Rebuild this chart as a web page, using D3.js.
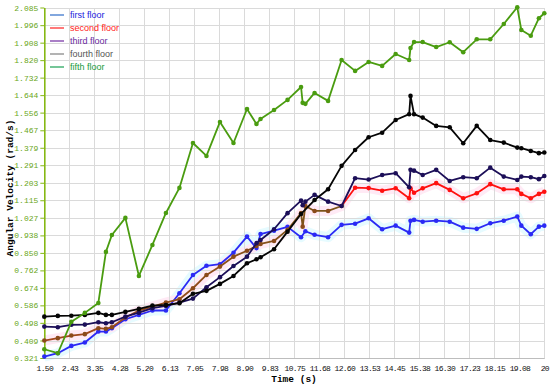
<!DOCTYPE html>
<html>
<head>
<meta charset="utf-8">
<script src="https://cdn.jsdelivr.net/npm/d3@7/dist/d3.min.js"></script>
<style>
  body { margin: 0; background: #fff; }
  .grid line { stroke: #dadada; shape-rendering: crispEdges; }
  .grid .domain { display: none; }
  .tick-label { font-family: "Liberation Mono", "DejaVu Sans Mono", monospace; font-size: 8px; }
  .x-label { letter-spacing: -0.7px; }
  .axis-title { font-family: "Liberation Mono", "DejaVu Sans Mono", monospace; font-size: 9.5px; font-weight: bold; fill: #000; }
  .legend text { font-family: "Liberation Sans", Arial, sans-serif; font-size: 9px; }
</style>
</head>
<body>
<script>
var xTickLabels = ["1.50", "2.43", "3.35", "4.28", "5.20", "6.13", "7.05", "7.98", "8.90", "9.83",
                   "10.75", "11.68", "12.60", "13.53", "14.45", "15.38", "16.30", "17.23", "18.15", "19.08", "20"];
var yTickLabels = ["0.321", "0.409", "0.498", "0.586", "0.674", "0.762", "0.850", "0.938", "1.027", "1.115",
                   "1.203", "1.291", "1.379", "1.467", "1.556", "1.644", "1.732", "1.820", "1.908", "1.996", "2.085"];

// [time (s), angular velocity (rad/s)]
var firstFloor = [
  [1.5, 0.328], [2.0, 0.345], [2.5, 0.382], [3.0, 0.399], [3.5, 0.454], [3.78, 0.454], [4.0, 0.471],
  [4.5, 0.516], [5.0, 0.538], [5.5, 0.560], [6.0, 0.560], [6.5, 0.647], [7.0, 0.739], [7.5, 0.785],
  [8.0, 0.793], [8.5, 0.851], [9.0, 0.932], [9.35, 0.874], [9.5, 0.945], [10.0, 0.962], [10.5, 0.981],
  [11.0, 0.929], [11.16, 0.959], [11.5, 0.941], [12.0, 0.929], [12.5, 0.991], [13.0, 0.997], [13.5, 1.024],
  [14.0, 0.969], [14.5, 0.987], [15.0, 0.952], [15.05, 1.012], [15.18, 1.016], [15.5, 1.007], [16.0, 1.012],
  [16.5, 1.007], [17.0, 0.977], [17.5, 0.971], [18.0, 0.999], [18.5, 1.012], [19.0, 1.033], [19.15, 0.987],
  [19.5, 0.944], [19.8, 0.982], [20.0, 0.987]
];
var secondFloor = [
  [1.5, 0.409], [2.0, 0.421], [2.5, 0.434], [3.0, 0.441], [3.5, 0.471], [3.78, 0.468], [4.0, 0.476],
  [4.5, 0.525], [5.0, 0.560], [5.5, 0.580], [6.0, 0.600], [6.5, 0.617], [7.0, 0.672], [7.5, 0.739],
  [8.0, 0.781], [8.5, 0.831], [9.0, 0.861], [9.35, 0.885], [9.5, 0.895], [10.0, 0.910], [10.5, 0.966],
  [11.0, 1.050], [11.06, 0.982], [11.16, 1.086], [11.5, 1.061], [12.0, 1.061], [12.5, 1.086], [13.0, 1.178],
  [13.5, 1.176], [14.0, 1.163], [14.5, 1.175], [15.0, 1.125], [15.05, 1.175], [15.18, 1.153], [15.5, 1.175],
  [16.0, 1.201], [16.5, 1.167], [17.0, 1.125], [17.5, 1.150], [18.0, 1.196], [18.5, 1.170], [19.0, 1.170],
  [19.15, 1.147], [19.5, 1.125], [19.8, 1.147], [20.0, 1.158]
];
var thirdFloor = [
  [1.5, 0.479], [2.0, 0.476], [2.5, 0.488], [3.0, 0.489], [3.5, 0.501], [3.78, 0.496], [4.0, 0.501],
  [4.5, 0.529], [5.0, 0.549], [5.5, 0.572], [6.0, 0.583], [6.5, 0.600], [7.0, 0.620], [7.5, 0.677],
  [8.0, 0.728], [8.5, 0.784], [9.0, 0.831], [9.35, 0.899], [9.5, 0.915], [10.0, 0.969], [10.5, 1.050],
  [11.0, 1.113], [11.06, 1.090], [11.16, 1.108], [11.5, 1.142], [12.0, 1.108], [12.5, 1.086], [13.0, 1.226],
  [13.5, 1.219], [14.0, 1.242], [14.5, 1.251], [15.0, 1.180], [15.05, 1.268], [15.18, 1.264], [15.5, 1.242],
  [16.0, 1.268], [16.5, 1.212], [17.0, 1.231], [17.5, 1.226], [18.0, 1.279], [18.5, 1.234], [19.0, 1.217],
  [19.15, 1.234], [19.5, 1.231], [19.8, 1.221], [20.0, 1.237]
];
var fourthFloor = [
  [1.5, 0.529], [2.0, 0.533], [2.5, 0.534], [3.0, 0.538], [3.5, 0.548], [3.78, 0.538], [4.0, 0.538],
  [4.5, 0.553], [5.0, 0.568], [5.5, 0.585], [6.0, 0.588], [6.5, 0.597], [7.0, 0.644], [7.5, 0.659],
  [8.0, 0.694], [8.5, 0.734], [9.0, 0.798], [9.35, 0.818], [9.5, 0.828], [10.0, 0.868], [10.5, 0.957],
  [11.0, 1.046], [11.5, 1.116], [12.0, 1.170], [12.5, 1.288], [13.0, 1.368], [13.5, 1.432], [14.0, 1.455],
  [14.5, 1.519], [15.0, 1.548], [15.05, 1.640], [15.18, 1.548], [15.5, 1.531], [16.0, 1.489], [16.5, 1.482],
  [17.0, 1.402], [17.5, 1.489], [18.0, 1.418], [18.5, 1.405], [19.0, 1.380], [19.15, 1.377], [19.5, 1.363],
  [19.8, 1.352], [20.0, 1.355]
];
var fifthFloor = [
  [1.5, 0.365], [2.0, 0.345], [2.5, 0.503], [3.0, 0.548], [3.5, 0.598], [3.78, 0.855], [4.0, 0.940],
  [4.5, 1.026], [5.0, 0.734], [5.5, 0.890], [6.0, 1.051], [6.5, 1.177], [7.0, 1.403], [7.5, 1.338],
  [8.0, 1.509], [8.5, 1.403], [9.0, 1.574], [9.35, 1.499], [9.5, 1.524], [10.0, 1.569], [10.5, 1.620],
  [11.0, 1.685], [11.06, 1.605], [11.16, 1.600], [11.5, 1.655], [12.0, 1.615], [12.5, 1.821], [13.0, 1.766],
  [13.5, 1.811], [14.0, 1.791], [14.5, 1.851], [15.0, 1.821], [15.05, 1.881], [15.18, 1.911], [15.5, 1.911],
  [16.0, 1.886], [16.5, 1.910], [17.0, 1.860], [17.5, 1.925], [18.0, 1.925], [18.5, 2.002], [19.0, 2.086],
  [19.15, 1.972], [19.5, 1.943], [19.8, 2.031], [20.0, 2.056]
];

var series = [
  {name: "first floor",  data: firstFloor,  stroke: "#2a2af5", glow: "#e6fbff", key: "#3f78cc", text: "#2222dd"},
  {name: "second floor", data: secondFloor, stroke: "url(#redgrad)", glow: "#ffeaf5", key: "#ff3030", text: "#ff2020"},
  {name: "third floor",  data: thirdFloor,  stroke: "#1c0f58", glow: null, key: "#7a3aa8", text: "#6a2aa0"},
  {name: "fourth floor", data: fourthFloor, stroke: "#050505", glow: null, key: "#8a8a8a", text: "#555555"},
  {name: "fifth floor",  data: fifthFloor,  stroke: "#4a9c10", glow: null, key: "#2aa860", text: "#189a3c"}
];

var width = 550, height = 386;
var x = d3.scaleLinear().domain([1.5, 20]).range([44.3, 544.3]);
var y = d3.scaleLinear().domain([0.321, 2.085]).range([358, 7.5]);

var svg = d3.select("body").append("svg")
    .attr("width", width)
    .attr("height", height);

// second floor turns from brown to red after 12.5 s
var grad = svg.append("defs").append("linearGradient")
    .attr("id", "redgrad")
    .attr("gradientUnits", "userSpaceOnUse")
    .attr("x1", x(1.5)).attr("x2", x(20))
    .attr("y1", 0).attr("y2", 0);
var cut = (x(12.5) - x(1.5)) / (x(20) - x(1.5));
grad.append("stop").attr("offset", 0).attr("stop-color", "#a4461c");
grad.append("stop").attr("offset", cut).attr("stop-color", "#7a5418");
grad.append("stop").attr("offset", cut).attr("stop-color", "#ff1010");
grad.append("stop").attr("offset", 1).attr("stop-color", "#ff1010");

var line = d3.line()
    .x(function(d) { return x(d[0]); })
    .y(function(d) { return y(d[1]); });

// faint bands behind blue and red lines
svg.selectAll("path.glow")
    .data(series.filter(function(s) { return s.glow; }))
  .enter().append("path")
    .attr("class", "glow")
    .attr("d", function(s) { return line(s.data); })
    .attr("fill", "none")
    .attr("stroke", function(s) { return s.glow; })
    .attr("stroke-width", 10)
    .attr("stroke-linejoin", "round");

svg.append("g")
    .attr("class", "grid")
    .attr("transform", "translate(0,358)")
    .call(d3.axisBottom(x)
      .tickValues(xTickLabels.map(Number))
      .tickSize(-350.5)
      .tickFormat(""));

svg.append("g")
    .attr("class", "grid")
    .attr("transform", "translate(44.3,0)")
    .call(d3.axisLeft(y)
      .tickValues(yTickLabels.map(Number))
      .tickSize(-500)
      .tickFormat(""));

// x axis
var xAxis = svg.append("g")
    .attr("transform", "translate(0,358)")
    .call(d3.axisBottom(x)
      .tickValues(xTickLabels.map(Number))
      .tickSize(0)
      .tickPadding(7)
      .tickFormat(function(d, i) { return xTickLabels[i]; }));
xAxis.select(".domain").attr("stroke", "#bdbdbd");
xAxis.selectAll("text")
    .attr("class", "tick-label x-label")
    .attr("fill", "#111")
    .attr("font-size", null)
    .attr("font-family", null);

// y axis
var yAxis = svg.append("g")
    .attr("transform", "translate(44.3,0)")
    .call(d3.axisLeft(y)
      .tickValues(yTickLabels.map(Number))
      .tickSize(4)
      .tickSizeOuter(0)
      .tickPadding(2)
      .tickFormat(function(d, i) { return yTickLabels[i]; }));
yAxis.select(".domain").attr("stroke", "#86b814").attr("stroke-width", 1.6);
yAxis.selectAll(".tick line").attr("stroke", "#86b814");
yAxis.selectAll("text")
    .attr("class", "tick-label")
    .attr("fill", "#6aa61a")
    .attr("font-size", null)
    .attr("font-family", null);

svg.append("text")
    .attr("class", "axis-title")
    .attr("text-anchor", "middle")
    .attr("transform", "translate(13,188) rotate(-90)")
    .text("Angular Velocity (rad/s)");

svg.append("text")
    .attr("class", "axis-title")
    .attr("text-anchor", "middle")
    .attr("x", 294)
    .attr("y", 382)
    .text("Time (s)");

// lines and markers
var plot = svg.selectAll("g.series")
    .data(series)
  .enter().append("g")
    .attr("class", "series");

plot.append("path")
    .attr("d", function(s) { return line(s.data); })
    .attr("fill", "none")
    .attr("stroke", function(s) { return s.stroke; })
    .attr("stroke-width", 1.8)
    .attr("stroke-linejoin", "round");

plot.each(function(s) {
  d3.select(this).selectAll("circle")
      .data(s.data)
    .enter().append("circle")
      .attr("cx", function(d) { return x(d[0]); })
      .attr("cy", function(d) { return y(d[1]); })
      .attr("r", 2.3)
      .attr("fill", function(d) {
        if (s.name == "second floor") return d[0] <= 12.5 ? "#8a4a1a" : "#ff1010";
        return s.stroke;
      });
});

// legend
var legend = svg.append("g")
    .attr("class", "legend")
    .selectAll("g")
    .data(series)
  .enter().append("g")
    .attr("transform", function(s, i) { return "translate(50," + (15 + i * 13) + ")"; });

legend.append("line")
    .attr("x1", 0).attr("x2", 14)
    .attr("stroke", function(s) { return s.key; })
    .attr("stroke-width", 1.3);

legend.append("text")
    .attr("x", 20)
    .attr("dy", "0.35em")
    .attr("fill", function(s) { return s.text; })
    .text(function(s) { return s.name; });
</script>
</body>
</html>
